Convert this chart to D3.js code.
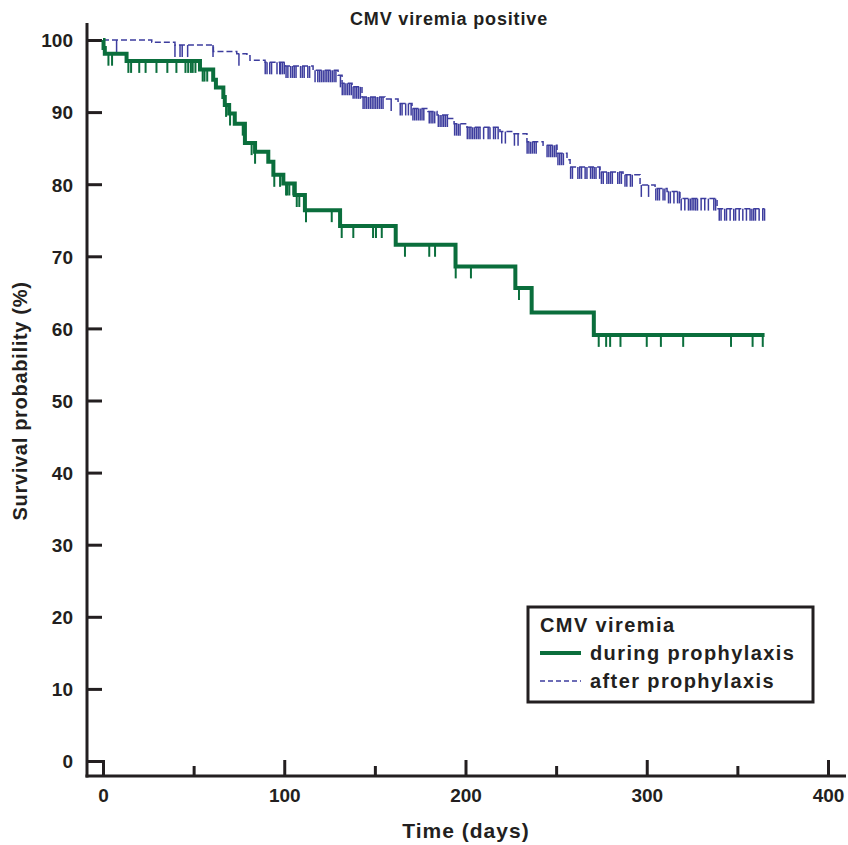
<!DOCTYPE html>
<html>
<head>
<meta charset="utf-8">
<script src="https://cdn.jsdelivr.net/npm/d3@7"></script>
<style>
  body { margin: 0; background: #fff; }
  text { font-family: "Liberation Sans", Arial, sans-serif; font-weight: bold; fill: #231f20; }
</style>
</head>
<body>
<script>
// axis ticks
var xTicks = [0, 100, 200, 300, 400],
    xMinorTicks = [50, 150, 250, 350],
    yTicks = [0, 10, 20, 30, 40, 50, 60, 70, 80, 90, 100],
    endDay = 365;

// CMV viremia during prophylaxis (step times in days, survival % after step)
var duringTimes = [0, 0.3, 1, 13, 53.5, 60.8, 62.3, 66.4, 67.2, 69.6, 72.7, 78.3, 83.9, 91.2, 94, 99.5, 105.8, 111.4, 130.8, 161.5, 194.5, 227.5, 236.5, 270.8];
var duringSurv  = [100, 98.9, 98.1, 97.1, 95.9, 94.5, 93.4, 92.1, 91.0, 89.8, 88.4, 85.7, 84.5, 83.1, 81.3, 80.1, 78.5, 76.4, 74.2, 71.6, 68.6, 65.6, 62.2, 59.1];
var duringCensor = [3, 5, 14, 15.5, 20, 23.5, 29.5, 35.5, 40.5, 45.5, 47, 48.5, 49.5, 51,
    55, 56, 57.5, 67.9, 70.1, 77.1, 82, 83.9, 94.5, 97.7, 101, 101.7, 102.8, 105, 106.9, 108.3,
    112, 126.2, 131.7, 138.1, 149, 150.6, 153.8, 166.6, 180, 183.2, 194.6, 203, 229.5,
    273.5, 277.6, 279.8, 285.5, 300, 307.8, 320.1, 346.5, 358.4, 364];

// CMV viremia after prophylaxis
var afterTimes = [0, 26.9, 39.7, 60.9, 73.8, 79.4, 81.1, 89.4, 100.4, 115.9, 129.7, 131.9, 137.4, 142.9, 155.6, 162.8, 170.5, 179.3, 184.3, 190.3, 193.7, 200.8, 219, 226.2, 233.9, 242.8, 250.5, 256, 257.7, 274.2, 286.9, 296.3, 304.6, 311.2, 318.3, 338.8];
var afterSurv  = [100, 99.7, 99.3, 98.4, 98.1, 97.8, 97.2, 96.9, 96.4, 95.8, 95.1, 94.0, 93.5, 92.1, 91.8, 91.2, 90.5, 90.1, 89.6, 89.1, 88.4, 87.9, 87.3, 87.0, 85.9, 85.4, 84.3, 83.4, 82.4, 81.7, 81.3, 79.9, 79.4, 79.0, 78.0, 76.6];
var afterCensor = [7.5, 39.7, 42.5, 43.7, 46.7, 60.7, 75,
    89.5, 90.5, 92, 93, 96, 97.5, 98, 99, 100,
    101, 102, 103.5, 104.5, 105.5, 106.5, 109, 110, 111, 113, 114,
    117, 118.5, 119.5, 120.5, 121.5, 122.5, 123.5, 124.5, 125.5, 126.5, 127.5, 128.5,
    131, 132, 133, 134, 135, 136, 137, 138, 139, 140, 141, 142,
    143.5, 144.5, 145.5, 146.5, 147.5, 148.5, 149.5, 150.5, 151.5, 152.5, 153.5, 154.5,
    159, 164, 165, 167, 168.5,
    170, 171, 172, 173, 174, 175, 176, 177,
    180, 181, 182, 183, 185, 186, 187, 188, 189, 190,
    194, 195, 196, 197,
    201, 202, 203, 204, 205, 206, 207, 208, 210, 212.5, 213.5, 215.5, 216.5, 218,
    220, 222, 227, 229,
    234, 235, 236, 237, 238, 239,
    245, 246, 247, 248, 249, 250, 251, 252, 253, 254,
    258, 259, 262, 263, 264, 266, 267, 269, 270, 271, 272,
    274, 275, 276, 278, 279, 280, 281, 284, 285, 286, 288, 289, 291, 292,
    297, 301, 305, 306, 307, 309, 310, 312, 313, 315, 317, 318,
    319, 321, 323, 324, 325, 326, 327, 328, 330, 332, 334, 337, 338,
    340, 341, 343, 344, 346, 348, 349, 351, 353, 355, 357, 358, 359, 360, 362, 364, 365];

var width = 848, height = 845,
    green = "#0a6e3c",
    blue = "#3d3d9e",
    ink = "#231f20",
    tickLen = 12;

var svg = d3.select("body").append("svg")
    .attr("width", width)
    .attr("height", height);

var x = d3.scaleLinear().domain([0, 400]).range([103, 828]);
var y = d3.scaleLinear().domain([0, 100]).range([761, 40]);

var axisX = 776, axisY = 87;

// title
svg.append("text")
    .attr("x", 449).attr("y", 25)
    .attr("text-anchor", "middle")
    .style("font-size", "18px")
    .style("letter-spacing", "0.85px")
    .text("CMV viremia positive");

// x axis (major + minor ticks, inward)
var gx = svg.append("g").attr("transform", "translate(0," + axisX + ")")
    .call(d3.axisBottom(x).tickValues(xTicks).tickSize(-16).tickPadding(13).tickFormat(d3.format("d")));
svg.append("g").attr("transform", "translate(0," + axisX + ")")
    .call(d3.axisBottom(x).tickValues(xMinorTicks).tickSize(-10).tickFormat(""))
    .call(function (g) { g.select(".domain").remove(); });

var gy = svg.append("g").attr("transform", "translate(" + axisY + ",0)")
    .call(d3.axisLeft(y).tickValues(yTicks).tickSize(-15).tickPadding(14));

svg.selectAll(".domain").remove();
svg.selectAll(".tick line").attr("stroke", ink).attr("stroke-width", 3);
svg.selectAll(".tick text").attr("fill", ink).style("font-size", "19px")
    .style("font-family", "'Liberation Sans', Arial, sans-serif").style("font-weight", "bold");
gy.selectAll(".tick text").attr("dy", "0.36em");

// axis lines
svg.append("line")
    .attr("x1", axisY).attr("x2", axisY).attr("y1", 23).attr("y2", axisX + 1.5)
    .attr("stroke", ink).attr("stroke-width", 3);
svg.append("line")
    .attr("x1", axisY - 1.5).attr("x2", 846).attr("y1", axisX).attr("y2", axisX)
    .attr("stroke", ink).attr("stroke-width", 3);

// axis labels
svg.append("text")
    .attr("x", 466).attr("y", 838)
    .attr("text-anchor", "middle")
    .style("font-size", "21px")
    .style("letter-spacing", "1px")
    .text("Time (days)");
svg.append("text")
    .attr("transform", "translate(27,401) rotate(-90)")
    .attr("text-anchor", "middle")
    .style("font-size", "20px")
    .style("letter-spacing", "0.7px")
    .text("Survival probability (%)");

// survival curves
function stepData(times, surv) {
    var pts = times.map(function (t, i) { return [t, surv[i]]; });
    pts.push([endDay, surv[surv.length - 1]]);
    return pts;
}

function survAt(times, surv, t) {
    var i = d3.bisectRight(times, t) - 1;
    return surv[Math.max(i, 0)];
}

var line = d3.line()
    .x(function (d) { return x(d[0]); })
    .y(function (d) { return y(d[1]); })
    .curve(d3.curveStepAfter);

function drawCurve(times, surv, censor, color, lw, dash, tw) {
    var g = svg.append("g");
    g.selectAll("line.censor")
        .data(censor)
        .enter().append("line")
        .attr("class", "censor")
        .attr("x1", function (d) { return x(d); })
        .attr("x2", function (d) { return x(d); })
        .attr("y1", function (d) { return y(survAt(times, surv, d)); })
        .attr("y2", function (d) { return y(survAt(times, surv, d)) + tickLen; })
        .attr("stroke", color)
        .attr("stroke-width", tw);
    g.append("path")
        .datum(stepData(times, surv))
        .attr("d", line)
        .attr("fill", "none")
        .attr("stroke", color)
        .attr("stroke-width", lw)
        .attr("stroke-dasharray", dash);
}

drawCurve(afterTimes, afterSurv, afterCensor, blue, 1.5, "6,3", 1.5);
drawCurve(duringTimes, duringSurv, duringCensor, green, 4, null, 2);

// legend
var lg = svg.append("g");
lg.append("rect")
    .attr("x", 528).attr("y", 607).attr("width", 285).attr("height", 95)
    .attr("fill", "#fff").attr("stroke", ink).attr("stroke-width", 3);
lg.append("text").attr("x", 540).attr("y", 632).style("font-size", "20px").style("letter-spacing", "1.4px").text("CMV viremia");
lg.append("line").attr("x1", 540).attr("x2", 581).attr("y1", 653).attr("y2", 653)
    .attr("stroke", green).attr("stroke-width", 4);
lg.append("text").attr("x", 590).attr("y", 660).style("font-size", "20px").style("letter-spacing", "1.4px").text("during prophylaxis");
lg.append("line").attr("x1", 540).attr("x2", 581).attr("y1", 681).attr("y2", 681)
    .attr("stroke", blue).attr("stroke-width", 1.5).attr("stroke-dasharray", "5,3");
lg.append("text").attr("x", 590).attr("y", 688).style("font-size", "20px").style("letter-spacing", "1.4px").text("after prophylaxis");
</script>
</body>
</html>
